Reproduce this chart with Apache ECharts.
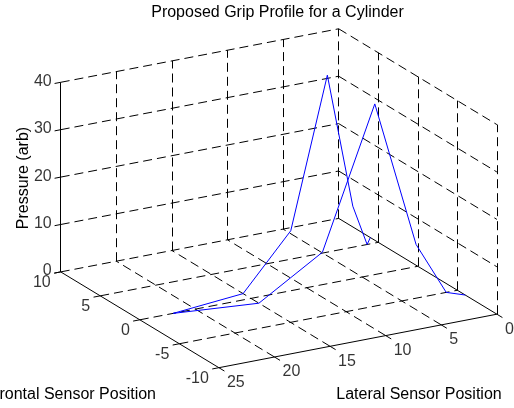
<!DOCTYPE html>
<html>
<head>
<meta charset="utf-8">
<script src="https://cdn.jsdelivr.net/npm/echarts@6/dist/echarts.min.js"></script>
<style>
html,body{margin:0;padding:0;background:#fff;}
#chart{width:514px;height:408px;}
</style>
</head>
<body>
<div id="chart"></div>
<script>
// ---- data ----
const lateralPos   = [22, 15, 10, 6, 3, 1, 0];
const frontalPosA  = [0, 1, 2, 3, 4, 5, 6];
const frontalPosB  = [0, -1, -2, -3, -4, -5, -6];
const pressureA    = [0, 0, 10, 40, 10, 0, 0];
const pressureB    = [0, 0, 9.5, 40, 10, 0, 0];
const lateralTicks = [0, 5, 10, 15, 20, 25];
const frontalTicks = [-10, -5, 0, 5, 10];
const pressureTicks = [0, 10, 20, 30, 40];
const titleText = 'Proposed Grip Profile for a Cylinder';
const lateralName = 'Lateral Sensor Position';
const frontalName = 'Frontal Sensor Position';
const pressureName = 'Pressure (arb)';

// ---- axis ranges ----
const LAT = [0, 25], FR = [-10, 10], Z = [0, 40];

// ---- view (orthographic projection, plane units) ----
const view = {
  ox: 417.8, oy: 266.3,        // projected (lat=0, fr=0, z=0)
  lx: -11.12, ly: 2.14,        // per lateral unit
  fx: -7.91,  fy: -4.79,       // per frontal unit
  zy: -4.74                    // per pressure unit
};
function proj(lat, fr, z) {
  return [view.ox + lat * view.lx + fr * view.fx,
          view.oy + lat * view.ly + fr * view.fy + z * view.zy];
}

// ---- dashed grid segments ----
const dashed = [];
function seg(arr, p, q) { arr.push({ coords: [proj.apply(null, p), proj.apply(null, q)] }); }
lateralTicks.forEach(L => {
  if (L !== LAT[0] && L !== LAT[1]) seg(dashed, [L, FR[0], 0], [L, FR[1], 0]);
  if (L !== LAT[1]) seg(dashed, [L, FR[1], 0], [L, FR[1], Z[1]]);
});
frontalTicks.forEach(F => {
  if (F !== FR[0]) seg(dashed, [LAT[1], F, 0], [LAT[0], F, 0]);
  if (F !== FR[1]) seg(dashed, [LAT[0], F, 0], [LAT[0], F, Z[1]]);
});
pressureTicks.forEach(P => {
  if (P !== 0) seg(dashed, [LAT[1], FR[1], P], [LAT[0], FR[1], P]);
  if (P !== 0) seg(dashed, [LAT[0], FR[1], P], [LAT[0], FR[0], P]);
});

// ---- solid axis lines and ticks ----
const solid = [];
seg(solid, [LAT[1], FR[1], Z[0]], [LAT[1], FR[1], Z[1]]);
seg(solid, [LAT[1], FR[1], 0], [LAT[1], FR[0], 0]);
seg(solid, [LAT[1], FR[0], 0], [LAT[0], FR[0], 0]);
seg(solid, [LAT[0], FR[1], 0], [LAT[0], FR[0], 0]);
pressureTicks.forEach(P => seg(solid, [LAT[1], FR[1], P], [LAT[1] + 0.55, FR[1], P]));
frontalTicks.forEach(F => seg(solid, [LAT[1], F, 0], [LAT[1] + 0.6, F, 0]));
lateralTicks.forEach(L => seg(solid, [L, FR[0], 0], [L, FR[0] - 0.7, 0]));
seg(solid, [LAT[0], FR[1], 0], [LAT[0], FR[1], 1.1]);

// ---- tick labels ----
const zLabels = pressureTicks.map(P => ({ value: proj(LAT[1], FR[1], P), name: String(P) }));
const fLabels = frontalTicks.map(F => ({ value: proj(LAT[1], F, 0), name: String(F) }));
const lLabels = lateralTicks.map(L => ({ value: proj(L, FR[0], 0), name: String(L) }));

const lineA = lateralPos.map((L, i) => proj(L, frontalPosA[i], pressureA[i]));
const lineB = lateralPos.map((L, i) => proj(L, frontalPosB[i], pressureB[i]));

const FONT = '16px "Liberation Sans", Arial, Helvetica, sans-serif';
const labelBase = { show: true, formatter: '{b}', color: '#000',
  fontFamily: '"Liberation Sans", Arial, Helvetica, sans-serif', fontSize: 16 };

const chart = echarts.init(document.getElementById('chart'), null, { renderer: 'canvas' });
chart.setOption({
  animation: false,
  backgroundColor: '#fff',
  grid: { left: 0, right: 0, top: 0, bottom: 0 },
  xAxis: { type: 'value', min: 0, max: 514, show: false },
  yAxis: { type: 'value', min: 0, max: 408, inverse: true, show: false },
  series: [
    { type: 'lines', coordinateSystem: 'cartesian2d', silent: true, data: dashed,
      lineStyle: { color: '#000', width: 1, type: [9, 5], opacity: 1 } },
    { type: 'lines', coordinateSystem: 'cartesian2d', silent: true, data: solid,
      lineStyle: { color: '#000', width: 1, type: 'solid', opacity: 1 } },
    { type: 'line', data: lineA, symbol: 'none', silent: true,
      lineStyle: { color: '#0000ff', width: 1 } },
    { type: 'line', data: lineB, symbol: 'none', silent: true,
      lineStyle: { color: '#0000ff', width: 1 } },
    { type: 'scatter', data: zLabels, symbolSize: 0, silent: true,
      label: Object.assign({}, labelBase, { position: [-9, -1], align: 'right', verticalAlign: 'middle' }) },
    { type: 'scatter', data: fLabels, symbolSize: 0, silent: true,
      label: Object.assign({}, labelBase, { position: [-10, 11], align: 'right', verticalAlign: 'middle' }) },
    { type: 'scatter', data: lLabels, symbolSize: 0, silent: true,
      label: Object.assign({}, labelBase, { position: [8, 15], align: 'left', verticalAlign: 'middle' }) }
  ],
  graphic: [
    { type: 'text', x: 277.5, y: 12.3, silent: true,
      style: { text: titleText, font: FONT, fill: '#000', textAlign: 'center', textVerticalAlign: 'middle' } },
    { type: 'text', x: 419, y: 395, silent: true,
      style: { text: lateralName, font: FONT, fill: '#000', textAlign: 'center', textVerticalAlign: 'middle' } },
    { type: 'text', x: 156, y: 395, silent: true,
      style: { text: frontalName, font: FONT, fill: '#000', textAlign: 'right', textVerticalAlign: 'middle' } },
    { type: 'text', x: 23.5, y: 178, rotation: Math.PI / 2, silent: true,
      style: { text: pressureName, font: FONT, fill: '#000', textAlign: 'center', textVerticalAlign: 'middle' } }
  ]
});
</script>
</body>
</html>
